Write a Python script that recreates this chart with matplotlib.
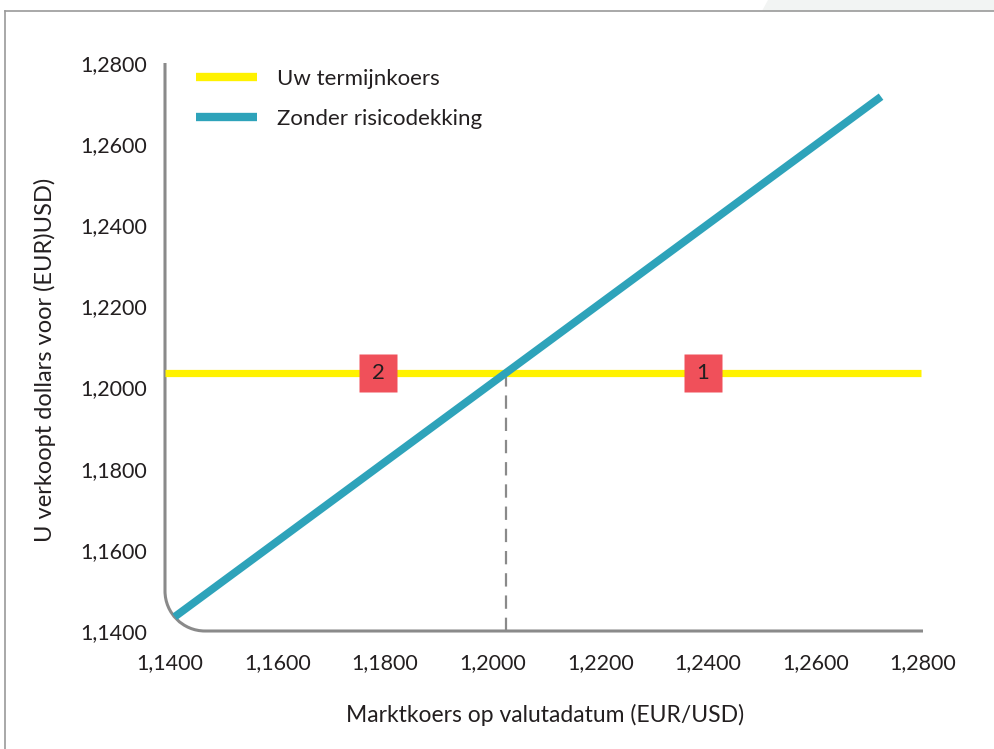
"""
Termijnkoers vs. zonder risicodekking (EUR/USD).
Writes out.png.
"""
import matplotlib
matplotlib.use("Agg")
import matplotlib.pyplot as plt
from matplotlib.path import Path
from matplotlib.patches import PathPatch, Polygon
from matplotlib.ticker import FuncFormatter

# data
ticks = [1.14, 1.16, 1.18, 1.20, 1.22, 1.24, 1.26, 1.28]
forward_rate = 1.2036
forward_x = [1.1391, 1.2797]
market = [1.1409, 1.2722]
unhedged = [1.1435, 1.2717]
break_even = 1.2024
box_x = [1.1787, 1.2391]
box_labels = ["2", "1"]

YELLOW = "#FFF200"
TEAL = "#2EA3BA"
RED = "#F0505A"
GREY = "#8A8A8A"
TXT = "#231F20"

plt.rcParams["font.family"] = ["Lato", "DejaVu Sans"]

W, H = 995, 749
fig = plt.figure(figsize=(W / 100, H / 100), dpi=100)

# outer frame of the page
fig.add_artist(plt.Line2D([5 / W, 1], [1 - 11 / H, 1 - 11 / H], color="#9a9a9a", lw=1.2))
fig.add_artist(plt.Line2D([5 / W, 5 / W], [0, 1 - 11 / H], color="#9a9a9a", lw=1.2))
fig.add_artist(Polygon([[762 / W, 1 - 11 / H], [768 / W, 1], [1, 1], [1, 1 - 11 / H]],
                       closed=True, transform=fig.transFigure, color="#f2f4f3", lw=0))

x0, x1, y0, y1 = 165, 923, 63, 631
ax = fig.add_axes([x0 / W, 1 - y1 / H, (x1 - x0) / W, (y1 - y0) / H])
ax.set_xlim(1.1391, 1.2782)
ax.set_ylim(1.14, 1.28)
for s in ax.spines.values():
    s.set_visible(False)

# L-shaped axis with rounded corner (axes fraction)
rx, ry = 40 / (x1 - x0), 40 / (y1 - y0)
k = 0.4477
verts = [(0, 1), (0, ry), (0, ry * k), (rx * k, 0), (rx, 0), (1, 0)]
codes = [Path.MOVETO, Path.LINETO, Path.CURVE4, Path.CURVE4, Path.CURVE4, Path.LINETO]
ax.add_patch(PathPatch(Path(verts, codes), transform=ax.transAxes, fill=False,
                       edgecolor=GREY, lw=2.2, clip_on=False, zorder=1))

ax.plot(forward_x, [forward_rate, forward_rate], color=YELLOW, lw=5.2,
        solid_capstyle="butt", label="Uw termijnkoers", zorder=2, clip_on=False)
ax.plot(market, unhedged, color=TEAL, lw=5.6, solid_capstyle="butt",
        label="Zonder risicodekking", zorder=3)
ax.plot([break_even, break_even], [1.14, forward_rate], color=GREY, lw=1.6,
        ls=(0, (6, 4)), zorder=1.5)

ax.plot(box_x, [forward_rate] * len(box_x), ls="none", marker="s", ms=28,
        mfc=RED, mec="none", zorder=4)
for bx, lab in zip(box_x, box_labels):
    ax.text(bx, forward_rate, lab, ha="center", va="center", fontsize=16,
            color=TXT, zorder=5)

ax.set_xticks(ticks)
ax.set_yticks(ticks)
fmt = FuncFormatter(lambda v, p: f"{v:.4f}".replace(".", ","))
ax.xaxis.set_major_formatter(fmt)
ax.yaxis.set_major_formatter(fmt)
ax.tick_params(axis="both", length=0, labelsize=15.5, labelcolor=TXT)
ax.tick_params(axis="x", pad=16)
ax.tick_params(axis="y", pad=13)

fig.text(545 / W, 1 - 715 / H, "Marktkoers op valutadatum (EUR/USD)", ha="center",
         va="center", fontsize=16.5, color=TXT)
fig.text(45 / W, 1 - 360 / H, "U verkoopt dollars voor (EUR)USD)", ha="center",
         va="center", rotation=90, fontsize=17, color=TXT)

leg = ax.legend(loc="upper left", bbox_to_anchor=(11 / (x1 - x0), 1.025), frameon=False,
                fontsize=16, handlelength=2.75, handletextpad=0.9, labelspacing=0.92,
                labelcolor=TXT)
for h in leg.get_lines():
    h.set_linewidth(6)

fig.savefig("out.png", dpi=100)
